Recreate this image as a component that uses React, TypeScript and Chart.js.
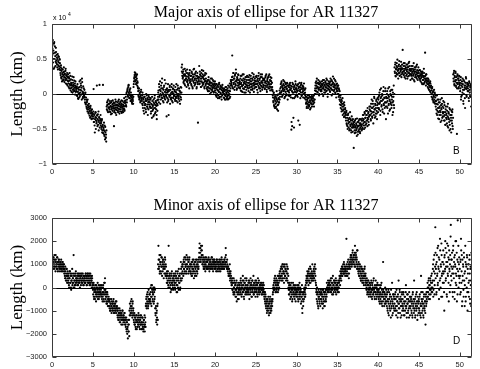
import { useEffect, useRef } from "react";
import { Chart, registerables } from "chart.js";
Chart.register(...registerables);

// time cadence of the samples (hours) and axis extent.
// Series "A" is sampled at i*CADENCE_H, series "B" half a cadence later.
const CADENCE_H = 0.05;
const X_MAX = 51.5;

const MAJOR_TITLE = "Major axis of ellipse for AR 11327";
const MINOR_TITLE = "Minor axis of ellipse for AR 11327";
const Y_LABEL = "Length (km)";

// Major-axis deviation, units of 100 km (one row = one hour)
const majorAxisA = [
  42,65,77,50,58,72,38,68,54,46,60,44,52,38,57,47,41,53,36,49,
  34,27,41,22,36,30,25,19,31,38,24,28,20,33,15,26,22,30,12,24,
  18,10,22,30,14,26,8,16,3,12,20,6,11,24,4,9,15,-1,10,7,
  4,11,-3,8,-6,0,6,-5,10,2,20,12,5,-8,17,3,-4,1,8,-5,
  -4,-12,2,-15,-8,-20,-10,-25,-16,-22,-28,-18,-31,-24,-20,-33,-26,-36,-22,-29,
  -28,-35,7,-40,-30,-55,-33,-26,-38,-42,12,-30,-36,-44,-25,-40,-34,-48,-38,-30,
  -42,-50,-38,-55,-46,13,-48,-52,-58,-45,-65,-55,-62,-68,-18,-12,-24,-15,-8,-20,
  -14,-22,-10,-26,-18,-12,-20,-28,-15,-9,-21,-17,-46,-24,-13,-19,-27,-11,-16,-23,
  -20,-12,-26,-17,-8,-22,-15,-25,-11,-19,-14,-27,-18,-10,-23,-16,-21,-6,-24,-13,
  -12,-4,-18,2,-8,6,-2,10,13,0,4,-6,8,-3,-10,-5,-12,-2,-8,-14,
  10,18,24,31,20,28,14,26,22,12,16,8,-2,5,-8,0,-4,-10,3,-6,
  -5,-14,2,-20,-8,-12,-28,-4,-16,-10,-22,0,-9,-18,-6,-30,-12,-3,-15,-8,
  -12,-20,-6,-25,-15,-34,-10,-18,-22,-8,-30,-14,-2,-20,-26,-12,-17,-36,-9,-16,
  -4,5,-12,10,-2,18,0,-8,8,-5,22,2,-10,6,-3,12,-6,3,-1,15,
  2,-32,8,-6,4,-10,-30,6,-4,12,-2,0,-8,10,-5,3,-12,7,1,-3,
  -2,6,-10,3,-6,14,-4,0,-12,8,-3,-7,5,-1,-14,2,-5,9,38,42,
  30,24,35,18,26,14,28,20,33,22,10,25,17,30,12,24,27,19,34,21,
  18,26,12,30,22,8,24,35,16,20,28,14,22,32,19,10,26,17,-41,23,
  20,40,15,28,22,10,30,18,25,12,24,33,16,21,8,27,19,14,29,17,
  15,6,20,10,24,4,13,18,8,16,2,12,22,7,14,9,18,3,11,15,
  5,12,-2,8,14,0,6,-6,10,3,16,-4,7,11,1,9,-8,5,13,2,
  3,-5,8,0,-8,6,-3,10,1,-6,4,-2,12,-7,5,0,15,-4,8,18,
  20,12,55,25,8,30,16,22,10,28,14,35,18,6,24,12,20,27,9,16,
  14,8,22,5,16,26,11,3,19,13,28,7,15,21,10,2,17,12,24,9,
  12,20,4,16,27,9,14,22,6,18,11,30,8,15,24,3,13,19,10,25,
  18,10,26,6,15,22,12,30,8,20,14,4,24,16,11,28,9,19,13,21,
  12,22,7,18,26,10,15,3,20,13,24,8,17,28,11,5,19,14,23,9,
  10,4,-5,-12,2,-18,-8,-3,-14,-20,-6,4,-22,-10,-1,-15,-7,-12,5,-4,
  8,14,2,18,-4,10,6,20,0,12,-6,9,16,3,-2,11,7,15,-8,5,
  4,12,-3,9,16,6,-5,-51,11,-46,2,14,-34,7,-6,10,3,18,-2,8,
  6,-2,12,5,-38,10,0,16,4,-6,9,14,-3,7,2,11,-5,8,15,1,
  6,-2,-8,-14,-4,-18,-10,-6,-20,-12,-2,-16,-9,-22,-5,-13,-8,-3,-15,-11,
  -6,-14,-2,-12,-8,5,12,0,18,8,15,3,10,20,6,-2,14,9,16,4,
  11,4,18,8,14,-3,10,20,6,13,2,16,9,22,5,12,-4,15,7,11,
  10,16,3,22,8,13,-2,18,6,25,11,4,14,9,20,1,12,-5,7,15,
  8,0,12,-4,6,-8,-15,-5,-20,-12,-25,-10,-18,-30,-14,-22,-33,-16,-26,-20,
  -28,-38,-24,-44,-34,-50,-30,-42,-36,-52,-40,-26,-46,-38,-55,-32,-44,-48,-36,-42,
  -77,-44,-52,-38,-48,-55,-42,-50,-35,-46,-58,-40,-52,-45,-36,-54,-48,-42,-50,-38,
  -44,-35,-50,-38,-30,-45,-40,-28,-48,-34,-24,-42,-30,-38,-20,-36,-26,-44,-32,-22,
  -30,-18,-38,-25,-8,-32,-20,-14,-42,-26,-4,-22,-34,-16,-28,-10,-24,-36,-12,-20,
  -14,-4,-22,2,-12,-30,-6,8,-18,-10,-2,-26,-8,10,-16,-5,-20,4,-12,-36,
  -6,-18,4,-10,-28,-2,-14,10,-8,-22,0,-12,6,-16,-4,-30,2,-10,12,-20,
  38,30,45,25,35,40,28,49,33,22,36,42,30,26,39,34,46,24,37,31,
  63,32,40,27,36,44,30,22,38,34,28,42,35,25,39,31,46,29,36,20,
  34,26,40,30,22,36,28,44,32,18,35,27,38,24,31,42,29,20,33,26,
  30,22,34,26,18,32,24,28,14,30,20,26,36,16,25,59,22,12,28,19,
  22,14,18,8,20,12,16,4,15,10,5,-4,8,-8,2,-10,-2,6,-12,0,
  -5,-18,-10,-28,-2,-24,-15,-35,-8,-20,-30,-12,-26,-40,-16,-22,-6,-34,-18,-28,
  -20,-32,-12,-38,-26,-44,-18,-30,-36,-24,-46,-14,-34,-28,-40,-52,-22,-38,-30,-55,
  -30,-42,-22,-50,28,18,33,12,24,20,30,10,16,-57,26,14,22,8,19,25,
  12,4,20,-8,15,-2,10,22,6,-14,0,18,9,-20,12,24,7,-4,16,11,
  8,14,-6,18,6,-3,12,9,-18,4,10,
];

const majorAxisB = [
  55,70,45,62,36,74,50,59,40,66,48,56,42,50,35,54,45,39,50,44,
  30,38,24,33,18,28,35,21,27,32,17,29,23,36,20,27,14,25,19,28,
  15,24,8,19,12,5,21,14,9,25,2,16,13,7,19,5,12,18,3,9,
  8,-2,14,3,-7,9,1,18,-3,6,15,-1,9,22,0,-6,11,2,-2,6,
  -8,0,-14,-5,-18,-12,-22,-8,-19,-27,-14,-25,-21,-34,-17,-28,-23,-31,-27,-35,
  -32,-25,-40,-29,-45,-36,-27,-50,-34,-40,-31,-46,-29,-38,-52,-33,13,-42,-36,-45,
  -40,-47,-36,-52,-44,-56,-50,-41,-60,-53,-47,-63,-58,-52,-22,-16,-10,-26,-19,-14,
  -19,-25,-13,-17,-29,-22,-10,-18,-24,-14,-20,-12,-26,-21,-16,-8,-22,-30,-15,-19,
  -16,-24,-10,-21,-14,-28,-18,-12,-22,-16,-9,-25,-20,-15,-26,-12,-18,-22,-10,-17,
  -9,-16,0,-12,4,8,-4,12,2,-6,6,-2,-10,2,-8,-3,-14,-6,-10,-4,
  14,22,27,18,30,24,20,16,28,18,10,4,-4,8,-6,2,-12,-2,6,-8,
  -10,-2,-16,-6,-24,-12,-4,-20,-14,-7,-26,-10,-2,-15,-20,-8,-22,-11,-5,-18,
  -18,-8,-28,-14,-20,-4,-24,-16,-32,-12,-20,-6,-28,-16,-10,-22,-30,-14,-24,-8,
  2,-8,14,-4,6,-14,4,12,-2,16,-6,8,0,-12,10,-4,20,-8,6,-2,
  -4,6,-12,2,14,-8,4,-2,10,-14,6,-6,2,14,-10,0,8,-6,12,-2,
  4,-8,10,-4,2,-10,6,-2,12,-6,0,8,-10,4,-4,10,-8,2,32,26,
  22,32,16,28,20,36,12,26,22,30,18,35,20,14,28,22,8,30,16,26,
  26,14,32,20,10,28,18,25,36,12,22,30,16,26,8,22,30,14,24,18,
  24,14,32,18,26,10,22,34,16,28,14,22,26,10,18,30,12,22,18,8,
  10,18,4,14,20,8,16,0,12,22,6,16,10,4,20,12,2,14,8,18,
  8,2,14,-4,10,6,12,-2,4,14,-6,8,2,12,-4,6,10,-2,8,4,
  0,6,-6,4,-2,10,-8,2,6,-4,8,-8,2,-2,10,-6,4,12,20,14,
  16,24,10,20,30,14,22,6,26,18,12,30,20,8,22,16,28,12,20,14,
  18,10,26,14,4,20,12,28,8,22,16,2,18,10,24,14,6,20,26,12,
  16,8,24,12,20,2,18,26,10,14,22,6,20,12,28,16,8,22,14,18,
  10,24,14,20,2,18,26,10,16,22,8,28,12,18,24,6,16,22,10,20,
  20,8,16,24,12,28,6,18,22,10,16,26,14,8,20,24,10,18,6,16,
  6,-2,-10,0,-16,-6,-20,-10,-4,-18,-12,-8,-2,-16,-24,-6,-12,0,-8,2,
  2,10,16,4,12,-2,8,14,4,18,6,-4,10,14,0,8,16,4,12,-2,
  10,2,14,6,-2,12,8,-40,4,16,-6,10,2,-48,12,6,-4,14,8,2,
  12,4,-4,14,8,0,10,-44,6,12,2,16,-2,8,12,4,10,0,6,-6,
  2,8,-4,-12,-20,-8,-14,-2,-16,-6,-18,-12,-4,-10,-20,-14,-6,-18,-9,-4,
  -10,-2,-18,-8,0,8,16,4,12,22,10,2,16,8,14,0,18,6,12,10,
  6,14,0,12,20,8,16,2,12,6,18,10,4,14,20,8,0,12,18,6,
  14,4,18,8,12,20,6,14,0,16,10,22,6,12,2,18,8,14,4,10,
  4,12,0,8,-2,4,-10,-2,-16,-8,-22,-14,-6,-24,-18,-28,-12,-32,-22,-30,
  -34,-26,-42,-30,-46,-38,-28,-48,-40,-34,-50,-44,-36,-52,-42,-48,-38,-54,-46,-40,
  -48,-40,-56,-46,-36,-52,-44,-60,-48,-40,-54,-46,-38,-50,-42,-56,-44,-36,-46,-52,
  -38,-48,-30,-42,-36,-50,-26,-40,-34,-44,-30,-38,-24,-46,-34,-28,-40,-32,-18,-30,
  -24,-36,-14,-28,-20,-34,-10,-26,-18,-30,-6,-22,-14,-32,-20,-8,-28,-16,-6,-26,
  -8,-20,-2,-14,6,-24,-10,-4,-16,0,-22,-8,4,-14,-28,-6,-12,8,-18,-4,
  -12,0,-20,-6,8,-16,-4,-24,-10,4,-14,-2,-20,-8,6,-12,-26,-4,-16,0,
  32,42,26,36,30,44,38,28,34,40,30,47,26,36,32,40,28,35,42,30,
  36,28,44,33,24,40,30,36,26,42,32,22,38,30,44,26,34,40,28,33,
  28,36,22,32,40,26,34,20,30,38,24,32,28,40,22,34,26,30,38,24,
  26,34,20,28,22,30,16,26,32,20,24,14,30,22,18,26,20,28,16,22,
  18,10,22,14,6,16,10,18,2,12,8,0,10,-6,4,-12,-4,-8,2,-14,
  -10,-2,-22,-14,-30,-8,-20,-26,-12,-36,-18,-24,-8,-30,-20,-38,-14,-26,-32,-10,
  -26,-38,-16,-30,-44,-22,-34,-28,-42,-18,-32,-48,-26,-36,-20,-44,-30,-50,-34,-24,
  -38,-26,-46,-34,22,30,14,26,18,32,12,24,20,8,28,16,22,10,26,14,
  16,8,24,-4,12,18,2,14,-10,20,6,12,-6,16,8,22,-2,10,14,4,
  4,12,-10,16,2,10,-4,14,6,-2,
];

// Minor-axis deviation, units of 100 km (one row = one hour)
const minorAxisA = [
  12,14,9,11,13,8,10,12,9,14,11,8,10,13,7,11,9,12,8,10,
  9,11,7,10,8,11,9,7,10,8,6,8,4,7,3,5,8,2,6,4,
  3,6,0,4,7,2,5,-1,3,6,1,4,2,14,5,0,3,6,1,4,
  4,2,6,3,1,5,3,6,2,4,5,1,3,6,2,4,3,5,1,4,
  3,5,2,6,4,1,5,3,6,2,4,5,1,3,6,2,4,3,5,2,
  0,-3,2,-5,-1,-4,1,-2,-6,0,-3,-1,2,-4,-2,-5,0,-3,1,-2,
  -1,-4,1,-3,-6,0,-2,-5,2,-3,4,-1,-4,-6,-2,-7,-3,-8,-5,-4,
  -6,-9,-5,-10,-7,-8,-11,-6,-9,-7,-10,-5,-8,-9,-11,-7,-10,-8,-6,-9,
  -10,-13,-9,-12,-14,-11,-15,-10,-13,-12,-16,-11,-14,-10,-13,-15,-12,-14,-11,-16,
  -14,-17,-13,-19,-15,-18,-22,-16,-19,-14,-10,-7,-12,-8,-11,-5,-9,-13,-6,-10,
  -12,-15,-11,-16,-13,-17,-14,-12,-18,-15,-13,-16,-11,-14,-17,-15,-12,-16,-13,-18,
  -15,-18,-13,-16,-19,-14,-17,-12,-16,-15,-8,-5,-9,-3,-7,-4,-8,-1,-6,-5,
  -3,-6,0,-4,-8,1,-2,-5,-3,-1,-6,0,-4,-9,-12,-8,-14,-10,-16,-7,
  10,18,8,12,6,11,14,7,9,13,5,10,12,8,4,11,9,13,6,10,
  6,4,7,2,5,1,18,3,6,0,4,-2,5,2,7,1,3,-1,4,6,
  2,5,-1,4,7,1,3,-2,6,0,4,8,2,5,-1,3,11,6,9,4,
  7,10,5,12,8,11,6,13,9,7,14,10,8,12,6,11,9,13,7,10,
  9,6,11,5,8,12,7,10,4,9,11,6,8,12,5,10,7,9,11,8,
  12,15,19,13,17,11,16,14,18,12,10,13,8,11,9,12,7,10,13,9,
  11,8,12,9,13,10,7,11,9,12,8,10,13,9,11,7,10,12,8,11,
  10,8,11,9,12,7,10,8,11,9,12,8,10,7,11,9,13,8,10,11,
  9,11,8,12,10,13,17,9,11,8,10,7,9,5,8,6,10,4,7,5,
  3,1,4,-1,2,-3,0,3,-2,1,-4,2,-1,-6,0,-3,1,-2,-5,0,
  -1,2,-3,4,0,-4,1,-2,5,-1,3,-5,0,2,-3,1,-2,4,-1,0,
  1,-3,3,-1,-5,2,0,4,-2,1,-4,3,-1,0,5,-3,2,-2,1,-4,
  0,3,-2,1,-4,4,-1,2,-3,0,1,-2,2,-1,-3,0,1,-2,2,-1,
  -3,-5,-2,-7,-4,-9,-6,-11,-8,-5,-10,-7,-12,-6,-9,-4,-11,-8,-10,-6,
  -8,-5,-2,1,-1,3,0,5,-2,2,4,-1,1,3,-2,5,2,0,6,4,
  5,8,3,9,6,10,4,7,9,2,6,10,5,8,3,7,4,9,6,2,
  0,-3,2,-1,-5,1,-2,-4,0,-6,-1,2,-3,-2,0,-5,1,-3,-1,-4,
  -2,1,-4,-1,-6,0,-3,2,-5,-2,-1,-4,-6,1,-11,-3,-8,-2,-5,0,
  -2,-4,1,3,5,2,7,4,6,1,8,3,5,9,2,6,4,7,3,5,
  6,3,8,4,7,10,5,2,-2,-5,0,-7,-3,-9,-1,-4,-6,-2,-8,-3,
  -5,-2,-7,-3,-9,-1,-4,-6,-2,-8,-4,-1,-6,-3,2,0,-2,3,-1,1,
  0,3,-2,1,4,-1,2,-3,0,5,1,-2,3,0,-1,2,4,-3,1,0,
  1,-2,3,0,2,5,3,7,4,8,6,9,5,8,10,6,11,7,9,5,
  7,9,21,5,8,11,6,10,4,9,11,8,13,10,14,9,12,15,10,13,
  11,14,9,18,12,15,10,13,8,16,9,7,11,5,8,10,4,7,3,9,
  6,2,8,4,7,1,5,9,3,6,2,-1,4,-3,1,-2,3,-4,0,2,
  -2,1,-4,3,-1,-5,2,0,-3,4,-1,-4,1,-2,3,-5,0,-1,2,-3,
  -2,-5,1,-4,-7,0,-3,-6,2,-1,-8,-4,11,-2,-5,-3,-7,0,-6,-4,
  -4,-8,-2,-10,-6,-1,-12,-5,-9,-3,-7,-13,-4,-8,2,-6,-11,-3,-9,-5,
  -7,-3,-10,-5,-12,-1,-8,-6,-4,-11,3,-7,-9,-2,-6,-13,-5,-8,-3,-10,
  -5,-9,-2,-12,-7,-4,-10,-6,1,-8,-13,-3,-7,-11,-5,-9,-2,-6,-12,-4,
  -8,-4,-11,-6,-13,-2,-9,-7,3,-10,-5,-12,-8,-3,-9,-6,-14,-4,-7,-11,
  -6,-10,-3,-12,-8,5,-5,-11,-7,-2,-9,-13,-4,-8,-10,-6,-16,-3,-7,-5,
  -2,2,-4,0,4,-3,1,-5,3,-1,5,-2,2,0,8,-4,12,3,-3,6,
  26,4,10,-2,14,6,1,18,8,-5,12,3,16,0,9,19,5,-4,11,7,
  6,2,-10,14,8,17,4,11,-3,19,9,5,13,-6,16,7,10,1,27,12,
  3,15,8,-4,18,6,11,-2,14,9,2,20,5,-6,12,29,7,0,10,4,
  8,-3,12,21,2,14,-6,5,10,-1,15,3,-8,7,11,-4,9,0,13,-10,
  6,-2,10,3,14,-5,8,1,-8,12,4,
];

const minorAxisB = [
  11,8,13,10,12,9,14,11,7,12,10,9,13,8,11,10,12,7,9,11,
  10,8,12,9,7,10,11,8,9,10,7,5,9,4,6,8,3,5,7,2,
  5,1,4,7,2,6,0,3,5,8,2,4,0,6,3,1,5,2,7,3,
  3,5,1,4,6,2,5,3,0,4,6,3,5,2,4,6,1,3,5,2,
  4,2,6,3,5,1,4,6,2,5,3,6,2,4,1,5,3,0,4,1,
  -1,1,-4,-2,0,-5,-1,-3,1,-4,-2,0,-5,-3,1,-1,-4,-2,0,-3,
  -3,0,-5,-2,-4,1,-3,-6,-1,2,-2,-5,-3,-7,-4,-2,-6,-5,-8,-6,
  -8,-6,-10,-7,-9,-5,-8,-10,-7,-9,-6,-11,-8,-7,-10,-9,-6,-11,-9,-8,
  -12,-10,-14,-11,-13,-9,-12,-15,-11,-14,-12,-13,-10,-16,-12,-14,-13,-11,-15,-13,
  -16,-14,-18,-15,-20,-17,-14,-19,-16,-21,-12,-9,-11,-6,-10,-8,-12,-7,-11,-9,
  -14,-12,-16,-13,-15,-18,-12,-15,-14,-17,-15,-12,-16,-13,-15,-18,-14,-16,-12,-15,
  -16,-13,-17,-15,-18,-14,-16,-19,-13,-17,-7,-4,-8,-6,-2,-9,-5,-7,-3,-6,
  -5,-2,-7,1,-4,-1,-6,-3,0,-7,-2,-5,-1,-11,-9,-15,-11,-13,-8,-14,
  8,12,9,14,7,10,11,6,13,9,11,7,12,9,10,6,8,12,5,9,
  5,2,6,3,7,0,4,5,2,6,1,3,-1,6,2,4,0,5,3,1,
  3,0,6,2,5,-2,4,1,7,3,-1,5,2,6,0,4,8,3,6,10,
  9,6,11,8,13,7,10,9,12,6,10,8,13,9,11,7,12,8,10,6,
  7,10,5,9,11,6,8,12,7,10,5,9,11,7,9,12,6,10,8,9,
  13,17,11,15,12,18,13,16,10,14,11,9,12,8,10,13,9,11,8,12,
  9,11,8,12,10,9,12,8,10,11,9,13,10,8,12,9,11,10,12,9,
  9,11,7,10,12,8,11,9,10,7,11,9,12,10,8,10,12,9,11,8,
  10,8,12,9,11,10,14,11,9,12,8,9,6,8,5,7,3,6,4,2,
  1,3,-1,2,-2,4,0,-3,2,-1,1,-4,3,-2,0,-5,2,-1,-3,1,
  1,-2,3,-1,2,-3,0,3,-2,1,-4,2,-1,4,-2,0,3,-3,1,-2,
  -1,2,-2,0,3,-3,1,-1,2,-4,0,3,-2,1,-3,2,0,-1,3,-2,
  2,-1,1,-3,2,0,-2,3,-1,1,-2,0,1,-1,2,-3,-1,0,-2,1,
  -4,-2,-6,-3,-8,-5,-7,-10,-6,-9,-4,-8,-11,-7,-5,-10,-6,-9,-7,-5,
  -6,-3,0,-1,2,4,-1,3,1,-2,3,0,2,5,1,-1,4,3,7,5,
  7,4,9,5,8,3,10,6,7,4,9,5,8,7,4,10,6,3,8,5,
  -1,1,-3,0,-2,-4,2,-1,-3,-5,0,-2,1,-4,-1,-3,0,-6,-2,-1,
  -3,0,-2,-5,1,-1,-4,-2,0,-3,-7,-2,-4,-9,-5,-2,-6,-3,-1,-4,
  -1,-3,0,2,4,3,5,6,3,7,5,2,6,4,8,5,3,6,10,4,
  5,7,4,9,6,3,8,1,-1,-3,-6,-2,-8,-4,-5,-2,-7,-3,-5,-1,
  -3,-6,-4,-1,-7,-5,-2,-8,-3,-6,-2,-5,-1,-4,0,-1,1,-2,2,0,
  2,-1,1,3,-2,0,4,-1,2,-3,1,3,-1,2,0,-2,3,1,-1,2,
  -1,2,0,-2,3,4,1,5,6,3,7,5,9,7,6,8,10,6,8,7,
  8,6,10,7,5,9,12,8,6,10,9,12,14,11,13,10,12,16,11,14,
  12,10,15,13,9,14,11,12,16,10,8,6,10,7,5,9,6,3,8,5,
  4,7,3,5,2,6,8,4,5,1,3,0,2,-2,3,-1,1,-3,2,-1,
  0,-3,2,-2,-4,1,-1,-3,3,-2,0,-5,-2,0,-3,1,-4,-2,1,-1,
  -4,-1,-6,-3,-2,-5,1,-4,-7,-3,-2,-6,-1,-4,-8,-2,-5,-3,-7,-1,
  -6,-3,-9,-5,-11,-7,-2,-8,-4,-10,-6,-1,-9,-5,-12,-7,-3,-8,-4,-10,
  -5,-9,-2,-8,-4,-10,-6,-13,-3,-7,-9,-5,-1,-11,-4,-8,-6,-12,-2,-7,
  -8,-3,-10,-6,-12,-4,-8,-2,-9,-11,-5,-7,-3,-10,-6,-13,-8,-4,-9,-6,
  -5,-10,-7,-12,-3,-8,-5,-11,-6,-9,-13,-4,-7,-10,-2,-8,-12,-6,-9,-5,
  -9,-4,-11,-7,-13,-2,-8,-6,-10,-5,-12,-7,-3,-9,-6,-11,-4,-8,-2,-6,
  -4,0,-2,3,-5,1,-1,4,-3,2,0,6,-2,3,10,-1,7,14,1,9,
  15,8,-3,11,5,17,2,9,13,-1,7,21,4,10,-4,14,6,11,2,16,
  10,-2,13,7,20,3,9,15,-4,11,6,18,2,12,8,-2,14,22,5,9,
  12,6,-2,16,9,4,13,-5,10,20,6,1,15,8,-3,11,18,5,13,2,
  5,11,-2,16,7,-8,12,3,9,-4,13,6,1,18,-6,10,4,14,-2,8,
  10,2,-4,12,6,-7,9,3,15,-2,
];

const MAJOR_Y = { min: -10000, max: 10000, step: 5000 };
const MINOR_Y = { min: -3000, max: 3000, step: 1000 };
const X_STEP = 5;

const MINUS = "\u2212";
const fmtMajor = (v: number) => String(Math.round(v / 1000) / 10).replace("-", MINUS);
const fmtMinor = (v: number) => String(v).replace("-", MINUS);

const SERIF = "'Liberation Serif', 'Times New Roman', serif";
const SANS = "'Liberation Sans', Arial, sans-serif";

type Deco = {
  title: string;
  titleY: number;
  letter: string;
  letterY: number;
  exponent: boolean;
};

const decorPlugin = {
  id: "decor",
  afterDatasetsDraw(chart: any, _args: any, opts: Deco) {
    const { ctx, chartArea: a, scales } = chart;
    const L = Math.round(a.left) + 0.5;
    const R = Math.round(a.right) - 0.5;
    const T = Math.round(a.top) + 0.5;
    const B = Math.round(a.bottom) - 0.5;
    ctx.save();
    const y0 = Math.round(scales.y.getPixelForValue(0)) + 0.5;
    ctx.strokeStyle = "#000";
    ctx.lineWidth = 1;
    ctx.beginPath();
    ctx.moveTo(L, y0);
    ctx.lineTo(R, y0);
    ctx.stroke();
    ctx.strokeStyle = "#3a3a3a";
    ctx.beginPath();
    ctx.rect(L, T, R - L, B - T);
    ctx.stroke();
    const TL = 4;
    ctx.beginPath();
    scales.x.ticks.forEach((t: any) => {
      const x = Math.round(scales.x.getPixelForValue(t.value)) + 0.5;
      ctx.moveTo(x, T);
      ctx.lineTo(x, T + TL);
      ctx.moveTo(x, B);
      ctx.lineTo(x, B - TL);
    });
    scales.y.ticks.forEach((t: any) => {
      const y = Math.round(scales.y.getPixelForValue(t.value)) + 0.5;
      ctx.moveTo(L, y);
      ctx.lineTo(L + TL, y);
      ctx.moveTo(R, y);
      ctx.lineTo(R - TL, y);
    });
    ctx.stroke();
    ctx.fillStyle = "#000";
    ctx.font = `16px ${SERIF}`;
    ctx.textAlign = "center";
    ctx.textBaseline = "alphabetic";
    ctx.fillText(opts.title, (a.left + a.right) / 2 + 4, opts.titleY);
    ctx.font = `10px ${SANS}`;
    ctx.textAlign = "left";
    ctx.fillText(opts.letter, 453, opts.letterY);
    if (opts.exponent) {
      ctx.font = `7px ${SANS}`;
      ctx.fillText("x 10", 53, 20);
      ctx.font = `5px ${SANS}`;
      ctx.fillText("4", 68, 16);
    }
    ctx.translate(18, (a.top + a.bottom) / 2);
    ctx.rotate(-Math.PI / 2);
    ctx.font = `17px ${SERIF}`;
    ctx.textAlign = "center";
    ctx.textBaseline = "middle";
    ctx.fillText(Y_LABEL, 0, 0);
    ctx.restore();
  },
};

function toPoints(a: number[], b: number[]) {
  const pts: { x: number; y: number }[] = [];
  a.forEach((v, i) => pts.push({ x: i * CADENCE_H, y: v * 100 }));
  b.forEach((v, i) => pts.push({ x: (i + 0.5) * CADENCE_H, y: v * 100 }));
  return pts;
}

function makeConfig(
  points: { x: number; y: number }[],
  yr: { min: number; max: number; step: number },
  fmt: (v: number) => string,
  padTop: number,
  xAxisHeight: number,
  deco: Deco
): any {
  return {
    type: "scatter",
    data: {
      datasets: [
        {
          data: points,
          backgroundColor: "#000",
          borderWidth: 0,
          pointRadius: 1.1,
          pointHoverRadius: 1.1,
        },
      ],
    },
    options: {
      animation: false,
      responsive: false,
      events: [],
      layout: { padding: { left: 0, right: 8, top: padTop, bottom: 0 } },
      plugins: {
        legend: { display: false },
        tooltip: { enabled: false },
        title: { display: false },
        decor: deco,
      },
      scales: {
        x: {
          type: "linear",
          min: 0,
          max: X_MAX,
          grid: { display: false, drawTicks: false },
          border: { display: false },
          ticks: {
            stepSize: X_STEP,
            includeBounds: false,
            maxRotation: 0,
            autoSkip: false,
            padding: 3,
            color: "#222",
            font: { family: SANS, size: 7.5 },
          },
          afterFit: (s: any) => {
            s.height = xAxisHeight;
          },
        },
        y: {
          type: "linear",
          min: yr.min,
          max: yr.max,
          grid: { display: false, drawTicks: false },
          border: { display: false },
          ticks: {
            stepSize: yr.step,
            includeBounds: false,
            autoSkip: false,
            padding: 5,
            color: "#222",
            font: { family: SANS, size: 7.5 },
            callback: (v: number) => fmt(v),
          },
          afterFit: (s: any) => {
            s.width = 52;
          },
        },
      },
    },
    plugins: [decorPlugin],
  };
}

export default function App() {
  const topRef = useRef<HTMLCanvasElement>(null);
  const botRef = useRef<HTMLCanvasElement>(null);

  useEffect(() => {
    const c1 = new Chart(
      topRef.current!,
      makeConfig(toPoints(majorAxisA, majorAxisB), MAJOR_Y, fmtMajor, 24, 21, {
        title: MAJOR_TITLE,
        titleY: 17,
        letter: "B",
        letterY: 154,
        exponent: true,
      })
    );
    const c2 = new Chart(
      botRef.current!,
      makeConfig(toPoints(minorAxisA, minorAxisB), MINOR_Y, fmtMinor, 33, 12, {
        title: MINOR_TITLE,
        titleY: 25,
        letter: "D",
        letterY: 159,
        exponent: false,
      })
    );
    return () => {
      c1.destroy();
      c2.destroy();
    };
  }, []);

  return (
    <div
      style={{
        position: "absolute",
        left: 0,
        top: 0,
        width: 480,
        height: 369,
        background: "#fff",
      }}
    >
      <canvas ref={topRef} width={480} height={185} style={{ display: "block" }} />
      <canvas ref={botRef} width={480} height={184} style={{ display: "block" }} />
    </div>
  );
}
